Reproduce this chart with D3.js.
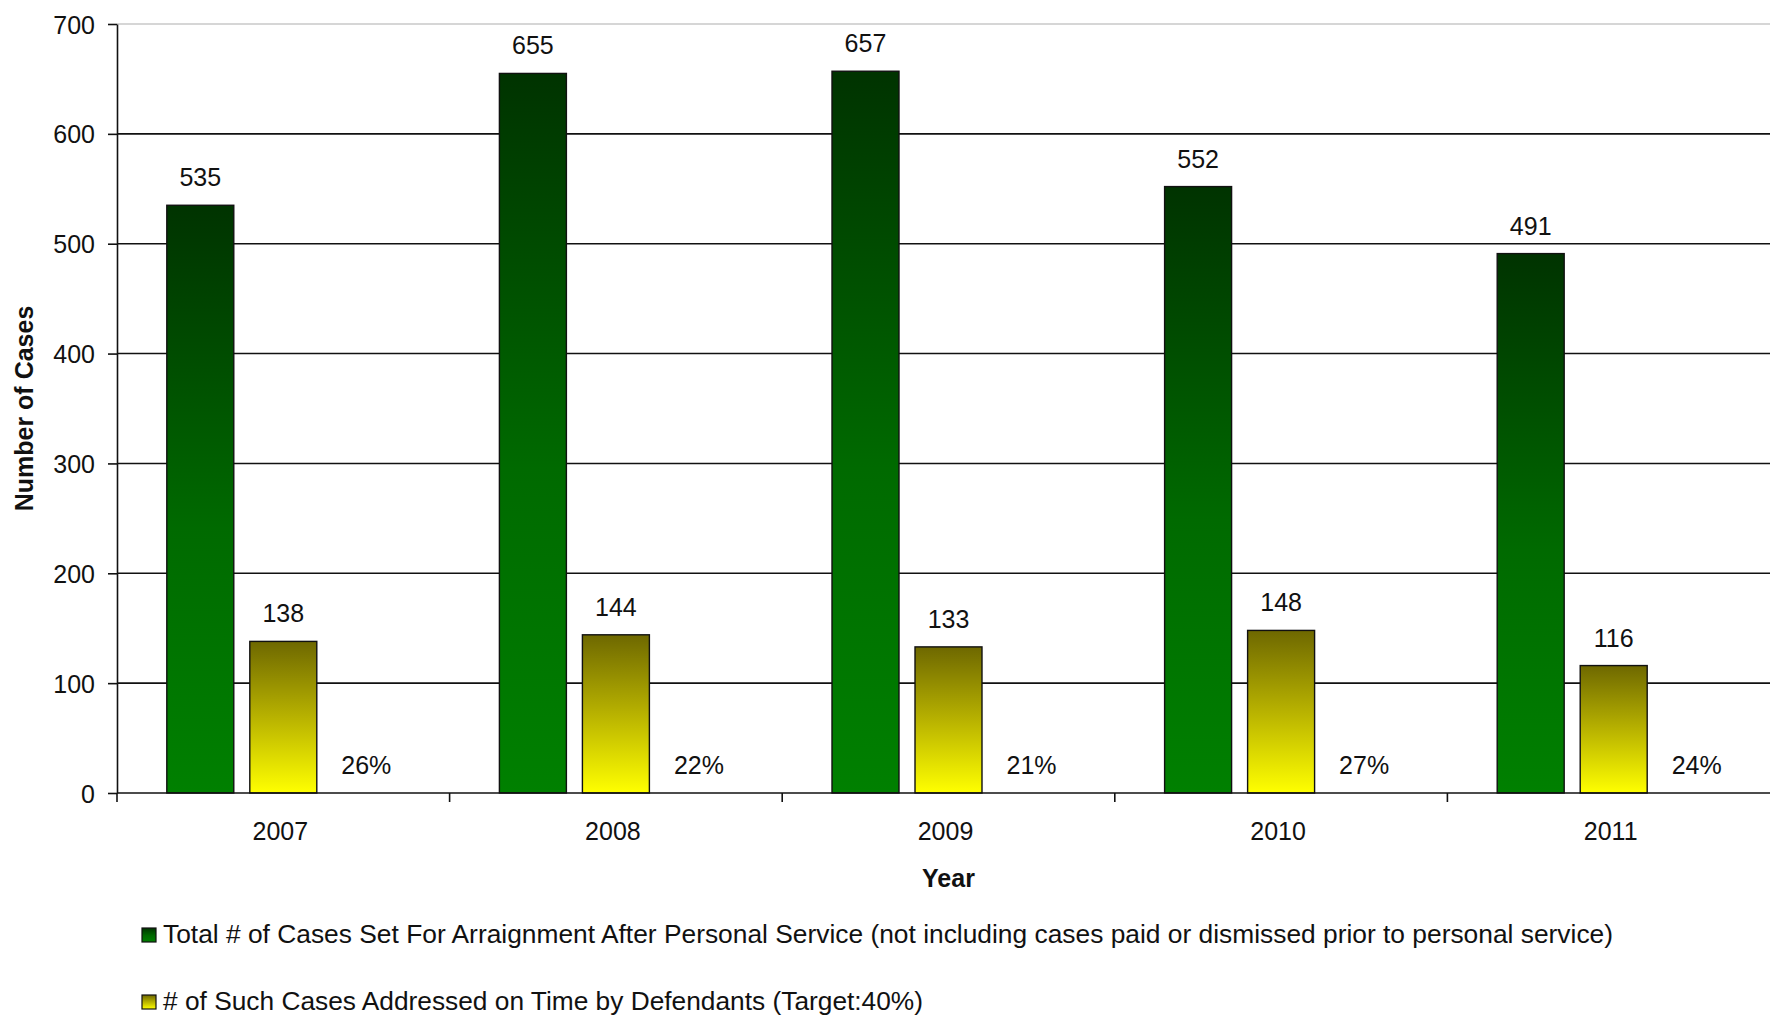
<!DOCTYPE html>
<html>
<head>
<meta charset="utf-8">
<script src="https://cdn.jsdelivr.net/npm/d3@7/dist/d3.min.js"></script>
<style>
  html, body { margin: 0; padding: 0; background: #fff; }
  svg { display: block; font-family: "Liberation Sans", Arial, sans-serif; }
</style>
</head>
<body>
<svg id="chart" width="1770" height="1015"></svg>
<script>
// Arraignment cases by year
const years = ["2007", "2008", "2009", "2010", "2011"];
const totalCases = [535, 655, 657, 552, 491];
const onTimeCases = [138, 144, 133, 148, 116];
const onTimeShare = [0.26, 0.22, 0.21, 0.27, 0.24];
const yTicks = [0, 100, 200, 300, 400, 500, 600, 700];
const seriesNames = [
  "Total # of Cases Set For Arraignment After Personal Service (not including cases paid or dismissed prior to personal service)",
  "# of Such Cases Addressed on Time by Defendants (Target:40%)"
];

const svg = d3.select("#chart");
const plotLeft = 117, plotRight = 1780, plotTop = 24, plotBottom = 793;

const x = d3.scaleBand().domain(years).range([plotLeft, plotRight]).paddingInner(0).paddingOuter(0);
const xs = d3.scaleBand().domain(["total", "onTime", "share"]).range([0, x.bandwidth()])
  .paddingInner(0.193).paddingOuter(0.6);
const y = d3.scaleLinear().domain([0, 700]).range([plotBottom, plotTop]);

// gradients for the bar fills
const defs = svg.append("defs");
function vGrad(id, stops) {
  const g = defs.append("linearGradient").attr("id", id)
    .attr("x1", 0).attr("y1", 0).attr("x2", 0).attr("y2", 1);
  stops.forEach(s => g.append("stop").attr("offset", s[0]).attr("stop-color", s[1]));
}
vGrad("gGreen", [[0, "#003300"], [0.55, "#006a00"], [1, "#008000"]]);
vGrad("gYellow", [[0, "#6e6800"], [0.5, "#b8b200"], [1, "#ffff00"]]);

// grid lines
svg.append("g").selectAll("line").data(yTicks.filter(t => t > 0)).join("line")
  .attr("x1", plotLeft).attr("x2", plotRight)
  .attr("y1", d => y(d)).attr("y2", d => y(d))
  .attr("stroke", d => d === 700 ? "#c8c8c8" : "#111")
  .attr("stroke-width", 1.6);

// y axis
const yAxis = svg.append("g").attr("transform", `translate(${plotLeft},0)`)
  .call(d3.axisLeft(y).tickValues(yTicks).tickSize(9).tickPadding(13).tickSizeOuter(0));
yAxis.select(".domain").attr("stroke", "#111").attr("stroke-width", 1.6);
yAxis.selectAll(".tick line").attr("stroke", "#111").attr("stroke-width", 1.6);
yAxis.selectAll(".tick text").attr("font-size", 25).attr("fill", "#111")
  .attr("font-family", "Liberation Sans, Arial, sans-serif").attr("dy", "0.36em");

// bars
const groups = svg.append("g").selectAll("g").data(years).join("g")
  .attr("transform", d => `translate(${x(d)},0)`);

groups.append("rect")
  .attr("x", xs("total")).attr("width", xs.bandwidth())
  .attr("y", (d, i) => y(totalCases[i]))
  .attr("height", (d, i) => y(0) - y(totalCases[i]))
  .attr("fill", "url(#gGreen)").attr("stroke", "#111").attr("stroke-width", 1.4);

groups.append("rect")
  .attr("x", xs("onTime")).attr("width", xs.bandwidth())
  .attr("y", (d, i) => y(onTimeCases[i]))
  .attr("height", (d, i) => y(0) - y(onTimeCases[i]))
  .attr("fill", "url(#gYellow)").attr("stroke", "#111").attr("stroke-width", 1.4);

groups.append("rect")
  .attr("x", xs("share")).attr("width", xs.bandwidth())
  .attr("y", (d, i) => y(onTimeShare[i]))
  .attr("height", (d, i) => y(0) - y(onTimeShare[i]))
  .attr("fill", "none");

// value labels
const lab = (sel, key, vals, fmt) => sel.append("text")
  .attr("x", xs(key) + xs.bandwidth() / 2)
  .attr("y", (d, i) => y(vals[i]) - 19)
  .attr("text-anchor", "middle").attr("font-size", 25).attr("fill", "#111")
  .text((d, i) => fmt(vals[i]));
lab(groups, "total", totalCases, v => v);
lab(groups, "onTime", onTimeCases, v => v);
lab(groups, "share", onTimeShare, d3.format(".0%"));

// x axis
const xAxis = svg.append("g").attr("transform", `translate(0,${plotBottom})`);
xAxis.append("line").attr("x1", plotLeft).attr("x2", plotRight).attr("stroke", "#111").attr("stroke-width", 1.6);
xAxis.selectAll("line.tk").data(years.slice(1)).join("line").attr("class", "tk")
  .attr("x1", d => x(d)).attr("x2", d => x(d)).attr("y1", 0).attr("y2", 9)
  .attr("stroke", "#111").attr("stroke-width", 1.6);
xAxis.append("line").attr("x1", plotLeft).attr("x2", plotLeft).attr("y1", 0).attr("y2", 9)
  .attr("stroke", "#111").attr("stroke-width", 1.6);
xAxis.selectAll("text").data(years).join("text")
  .attr("x", d => x(d) + x.bandwidth() / 2 - 3).attr("y", 47)
  .attr("text-anchor", "middle").attr("font-size", 25).attr("fill", "#111")
  .text(d => d);

// axis titles
svg.append("text").attr("x", (plotLeft + plotRight) / 2).attr("y", 887)
  .attr("text-anchor", "middle").attr("font-size", 25).attr("font-weight", "bold")
  .attr("fill", "#111").text("Year");
svg.append("text").attr("transform", `translate(33,${(plotTop + plotBottom) / 2}) rotate(-90)`)
  .attr("text-anchor", "middle").attr("font-size", 25).attr("font-weight", "bold")
  .attr("fill", "#111").text("Number of Cases");

// legend
const legend = svg.append("g");
const legendRows = [
  { name: seriesNames[0], fill: "url(#gGreen)", base: 943, len: 1450 },
  { name: seriesNames[1], fill: "url(#gYellow)", base: 1010, len: 760 }
];
legendRows.forEach(r => {
  legend.append("rect").attr("x", 142).attr("y", r.base - 15).attr("width", 14).attr("height", 14)
    .attr("fill", r.fill).attr("stroke", "#111").attr("stroke-width", 1.2);
  legend.append("text").attr("x", 163).attr("y", r.base)
    .attr("font-size", 25).attr("fill", "#111")
    .attr("textLength", r.len).attr("lengthAdjust", "spacingAndGlyphs")
    .text(r.name);
});
</script>
</body>
</html>
